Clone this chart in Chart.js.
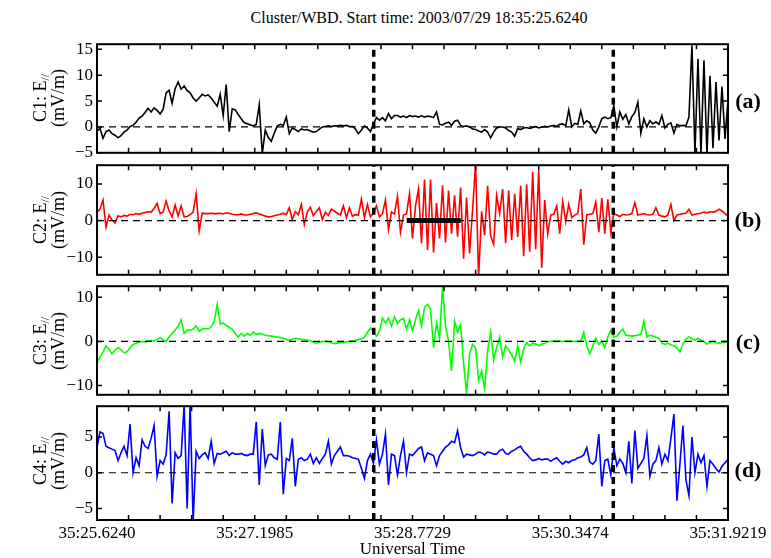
<!DOCTYPE html>
<html><head><meta charset="utf-8">
<script src="https://cdn.jsdelivr.net/npm/chart.js@4"></script>
<style>
html,body{margin:0;padding:0;background:#fff;}
#wrap{position:relative;width:771px;height:558px;overflow:hidden;font-family:"Liberation Serif","Times New Roman",serif;color:#000;}
canvas{position:absolute;left:0;width:771px;}
.ylab{position:absolute;left:49px;transform:translate(-50%,-50%) rotate(-90deg);font-size:18px;line-height:18px;text-align:center;white-space:nowrap;z-index:5;}
.ylab sub{font-size:12px;vertical-align:-3px;line-height:0;}
.plab{position:absolute;left:748px;transform:translate(-50%,-50%);font-size:22px;font-weight:bold;white-space:nowrap;z-index:5;}
#title{position:absolute;left:419px;top:18px;transform:translate(-50%,-50%);font-size:16px;white-space:nowrap;}
</style></head>
<body><div id="wrap">
<div id="title">Cluster/WBD. Start time: 2003/07/29 18:35:25.6240</div>
<canvas id="ca" width="771" height="137" style="top:30px;height:137px"></canvas>
<canvas id="cb" width="771" height="138" style="top:151px;height:138px"></canvas>
<canvas id="cc" width="771" height="137" style="top:272px;height:137px"></canvas>
<canvas id="cd" width="771" height="166" style="top:392px;height:166px"></canvas>
<div class="ylab" style="top:98px">C1: E<sub>//</sub><br>(mV/m)</div>
<div class="ylab" style="top:220px">C2: E<sub>//</sub><br>(mV/m)</div>
<div class="ylab" style="top:341px">C3: E<sub>//</sub><br>(mV/m)</div>
<div class="ylab" style="top:461px">C4: E<sub>//</sub><br>(mV/m)</div>
<div class="plab" style="top:101px">(a)</div>
<div class="plab" style="top:220px">(b)</div>
<div class="plab" style="top:342px">(c)</div>
<div class="plab" style="top:470px">(d)</div>
</div>
<script>
// ---- data ----
const xTickLabels = ['35:25.6240','35:27.1985','35:28.7729','35:30.3474','35:31.9219'];
const xTickSeconds = [0, 1.5745, 3.1489, 4.7234, 6.2979]; // seconds after start time
const markerSeconds = [2.762, 5.153];   // vertical dashed lines
const c2BarSeconds = [3.091, 3.630];    // black bar in panel (b)

const yTicksC1 = [-5, 0, 5, 10, 15];
const yTicksC2 = [-10, 0, 10];
const yTicksC3 = [-10, 0, 10];
const yTicksC4 = [-5, 0, 5];

const c1 = [
-0.8,-0.3,-2.2,-0.9,-0.6,-1.3,-1.6,-2.1,-1.7,-1.0,
-0.6,0.1,0.3,0.9,1.7,2.1,2.8,3.6,2.9,3.7,
3.2,2.5,3.4,6.6,7.1,4.6,7.4,8.7,7.3,7.9,
7.0,6.6,5.6,5.0,5.6,6.3,6.0,6.2,5.6,4.8,
4.0,6.3,2.2,8.2,-0.9,3.5,3.3,2.4,1.6,0.8,
0.6,0.4,0.2,0.5,4.3,-5.2,-0.6,-2.0,-2.8,-1.2,
0.2,0.5,0.3,1.9,-1.3,-0.2,-0.5,-0.9,-0.4,-0.6,
-0.5,-0.8,-1.0,-0.9,-0.4,0.0,0.1,0.2,0.1,0.2,
0.2,0.3,0.2,0.3,0.1,0.1,-0.4,-1.3,-0.6,0.2,
-0.2,-0.9,0.6,1.8,1.3,1.8,1.2,2.6,1.6,2.2,
2.2,1.9,2.1,1.8,2.2,2.0,2.1,1.9,2.2,1.9,
2.1,2.0,1.8,2.9,0.5,0.4,0.7,0.9,0.3,1.1,
1.3,0.3,0.1,0.2,0.0,-0.4,-0.5,-0.8,-1.0,-0.5,
-1.0,-2.1,-1.0,-0.2,0.0,0.0,-0.2,-0.7,-1.0,-1.8,
-0.3,-0.5,-0.2,-0.1,-0.3,-0.1,0.1,-0.2,0.0,0.1,
0.0,0.2,0.3,0.1,0.5,0.6,0.2,3.3,0.0,0.7,
0.5,3.1,0.6,1.2,0.8,-0.6,-1.2,0.0,1.6,1.9,
1.6,1.8,4.1,0.0,2.9,1.5,2.4,0.6,2.0,2.8,
4.8,-1.2,1.6,0.0,1.2,0.6,1.0,0.5,2.2,-0.2,
0.5,0.8,-1.2,0.5,0.2,0.3,0.2,1.9,15.8,-5.2,
13.2,-5.2,12.9,-5.2,9.9,-4.1,8.7,-2.6,7.8,-2.3,
5.3];

const c2 = [
2.3,3.1,5.6,-1.8,1.5,0.2,-0.7,1.3,1.0,1.4,
1.2,1.7,1.6,1.9,1.7,2.0,2.2,2.4,2.3,3.3,
4.7,1.9,2.3,5.3,2.6,1.0,4.2,1.3,4.0,1.0,
1.1,1.6,2.3,7.3,-2.8,2.0,1.9,1.9,2.0,1.9,
1.9,2.0,1.8,2.1,2.0,1.7,1.6,1.6,1.8,1.5,
1.5,1.7,1.9,2.1,1.8,1.5,1.2,1.0,1.1,1.3,
1.5,1.7,2.0,1.6,3.5,0.3,2.4,1.6,4.4,-1.1,
2.4,3.6,1.3,2.5,3.5,0.3,2.3,1.4,3.1,2.6,
2.0,1.5,4.0,0.8,3.5,1.2,1.6,1.5,5.9,0.8,
4.4,1.0,2.2,4.0,1.0,1.8,5.6,-2.4,2.3,1.8,
6.6,-3.2,1.5,1.8,7.3,-4.9,4.0,8.6,-6.2,11.2,
-8.0,11.2,-8.7,4.8,-4.9,9.6,-6.0,8.2,-3.6,6.9,
-4.4,9.0,-10.4,6.3,-9.0,3.1,15.4,-15.5,2.5,-4.0,
9.5,-4.2,-6.5,6.8,2.0,8.6,-6.2,8.2,-5.3,7.3,
-4.5,9.5,-9.7,9.9,-8.5,13.3,-7.8,13.7,-12.9,5.6,
-3.7,1.5,1.7,4.0,-3.6,5.2,-0.3,4.4,0.8,1.5,
1.9,8.6,-6.6,1.6,1.7,1.9,5.0,-3.2,6.1,-3.6,
5.8,-3.2,1.9,1.5,1.1,1.7,1.5,1.6,1.9,4.9,
1.5,1.7,1.9,1.6,1.5,1.7,3.5,1.5,1.2,1.0,
1.5,4.4,0.0,1.5,1.7,1.9,2.0,3.1,1.5,1.7,
1.9,2.0,2.3,2.1,2.4,2.3,2.5,3.1,2.6,1.9,
1.1];

const c3 = [
-4.9,-3.5,-2.5,-1.0,-1.8,-2.8,-2.0,-1.4,-1.9,-2.6,
-2.3,-1.5,-0.7,-0.4,-0.2,0.0,-0.1,0.1,0.2,0.1,
0.4,0.9,0.3,0.0,1.0,1.8,2.6,3.4,4.9,1.8,
2.5,2.6,2.8,3.5,2.3,2.8,2.9,2.8,3.3,4.5,
8.4,3.9,4.2,3.6,3.2,2.8,1.8,1.0,1.8,1.2,
1.8,1.4,2.1,1.6,1.8,1.6,1.4,1.3,1.2,1.1,
1.0,0.9,0.7,0.5,0.2,0.5,0.7,0.6,0.5,0.4,
0.3,0.1,-0.2,-0.4,-0.2,0.0,0.0,-0.1,-0.3,-0.5,
-0.4,-0.3,-0.3,-0.1,0.0,0.0,0.2,0.4,0.6,0.9,
2.0,3.0,2.2,1.2,2.3,5.3,4.2,5.3,3.5,5.6,
4.0,4.9,5.2,2.8,4.9,2.5,4.9,7.0,3.5,7.7,
8.4,7.4,-1.4,4.2,0.7,12.4,3.5,0.0,-6.7,4.6,
2.1,3.8,-4.9,-11.9,-2.8,-0.7,-1.5,-8.8,-6.7,-10.8,
-2.1,2.1,-4.2,-1.4,1.0,-3.5,-1.0,-2.0,-3.0,-4.5,
-1.0,-4.7,-1.7,-0.3,-1.0,-0.4,-0.6,-1.0,-0.6,-0.5,
-0.1,0.0,0.1,0.0,0.1,0.0,0.1,0.0,0.0,0.0,
0.0,0.0,2.0,-1.0,-2.8,-1.0,0.7,-0.7,0.0,-1.4,
1.0,2.5,1.0,1.2,2.1,2.8,1.4,1.3,1.2,1.3,
1.4,1.6,4.6,1.0,1.4,1.2,1.0,0.7,-0.4,-0.7,
-0.4,-0.8,-1.0,-1.5,-2.4,-0.6,0.5,1.0,0.6,0.3,
0.7,0.2,0.0,-0.6,-0.3,0.0,-0.3,-0.4,-0.3,-0.2,
0.0];

const c4 = [
3.5,5.7,5.5,3.7,3.5,3.3,3.1,1.7,2.8,3.7,
2.4,6.8,0.0,2.1,1.0,4.6,3.7,3.4,4.8,6.6,
-0.5,1.7,1.2,2.5,8.6,-4.3,2.8,2.0,2.4,9.5,
-5.0,9.5,-6.8,3.0,2.0,2.5,2.8,2.0,4.4,1.3,
2.7,2.6,2.8,3.0,2.4,2.8,2.6,2.6,2.7,2.5,
2.4,2.6,2.6,7.1,-1.7,6.1,1.0,2.5,2.6,2.1,
1.9,7.1,-3.0,2.0,1.7,4.8,-1.9,1.9,2.1,1.7,
1.9,2.6,1.3,2.1,1.3,2.0,2.6,4.4,1.2,2.4,
3.0,3.6,2.4,2.4,2.3,2.1,2.0,1.9,0.6,-0.8,
1.7,2.6,1.3,4.6,1.2,2.6,5.4,-1.7,2.6,2.4,
-0.3,2.4,4.4,0.0,2.6,2.4,2.9,3.4,3.6,1.7,
2.8,2.6,2.4,1.0,2.4,3.0,3.6,3.9,4.4,4.2,
5.9,3.5,2.2,2.6,2.5,2.4,2.6,2.9,2.8,2.5,
2.9,2.8,2.6,2.6,3.1,3.3,2.7,2.6,3.0,3.2,
3.5,3.7,3.0,2.6,2.1,1.7,1.8,2.0,1.8,1.9,
1.9,1.6,1.9,2.1,1.6,1.2,1.6,1.4,1.7,1.8,
2.1,2.2,2.5,3.5,1.5,1.2,1.7,5.4,-1.9,1.7,
1.9,-0.3,3.5,1.0,1.9,1.3,0.0,4.4,-1.5,5.9,
0.6,1.3,2.0,5.2,-0.5,1.2,1.7,3.5,1.2,2.6,
1.7,4.8,8.2,-3.9,1.2,6.6,-1.0,-3.2,5.0,0.0,
2.6,1.4,2.4,-1.9,1.7,1.2,0.6,0.1,0.9,1.4,
1.9];

// ---- chart setup ----
const FONT = '"Liberation Serif", "Times New Roman", serif';
Chart.defaults.font.family = FONT;
Chart.defaults.color = '#000';
const T = xTickSeconds[xTickSeconds.length - 1];
const minorX = [];
for (let k = 0; k <= 20; k++) minorX.push(T * k / 20);

const framePlugin = {
  id: 'frame',
  afterDraw(chart) {
    const {ctx, chartArea: {left, right, top, bottom}} = chart;
    const xs = chart.scales.x, ys = chart.scales.y;
    ctx.save();
    ctx.strokeStyle = '#000';
    ctx.lineWidth = 1.5;
    const tl = 5;
    ctx.beginPath();
    minorX.forEach(v => {
      const px = xs.getPixelForValue(v);
      ctx.moveTo(px, top); ctx.lineTo(px, top + tl);
      ctx.moveTo(px, bottom); ctx.lineTo(px, bottom - tl);
    });
    ys.ticks.forEach(t => {
      const py = ys.getPixelForValue(t.value);
      ctx.moveTo(left, py); ctx.lineTo(left + tl, py);
      ctx.moveTo(right, py); ctx.lineTo(right - tl, py);
    });
    ctx.stroke();
    ctx.lineWidth = 2;
    ctx.strokeRect(left, top, right - left, bottom - top);
    ctx.restore();
  }
};

const panels = [
  {id: 'ca', values: c1, color: '#000000', min: -5, max: 16, yTicks: yTicksC1, showX: false},
  {id: 'cb', values: c2, color: '#ff0000', min: -14.8, max: 15.1, yTicks: yTicksC2, showX: false, bar: c2BarSeconds},
  {id: 'cc', values: c3, color: '#00ff00', min: -12.1, max: 12.5, yTicks: yTicksC3, showX: false},
  {id: 'cd', values: c4, color: '#0000ff', min: -6.6, max: 9.3, yTicks: yTicksC4, showX: true}
];

panels.forEach(p => {
  const n = p.values.length;
  const pts = p.values.map((v, i) => ({x: i * T / (n - 1), y: v}));
  const datasets = [
    {data: pts, borderColor: p.color, borderWidth: 1.6, pointRadius: 0, tension: 0, clip: 0, order: 3},
    {data: [{x: 0, y: 0}, {x: T, y: 0}], borderColor: '#000', borderWidth: 1.2, borderDash: [7, 5], pointRadius: 0, clip: 0, order: 2}
  ];
  markerSeconds.forEach(m => datasets.push({
    data: [{x: m, y: p.min}, {x: m, y: p.max}], borderColor: '#000', borderWidth: 3.5,
    borderDash: [7, 5], pointRadius: 0, clip: 0, order: 1
  }));
  if (p.bar) datasets.push({
    data: p.bar.map(s => ({x: s, y: 0})), borderColor: '#000', borderWidth: 5,
    borderCapStyle: 'butt', pointRadius: 0, clip: 0, order: 0
  });
  new Chart(document.getElementById(p.id), {
    type: 'line',
    data: {datasets},
    options: {
      responsive: false,
      maintainAspectRatio: false,
      animation: false,
      events: [],
      layout: {padding: {left: 0, right: 43, top: 10, bottom: p.showX ? 0 : 10}},
      plugins: {legend: {display: false}, tooltip: {enabled: false}, title: {display: false}},
      scales: {
        x: {
          type: 'linear', min: 0, max: T, display: p.showX,
          afterBuildTicks: s => { s.ticks = xTickSeconds.map(v => ({value: v})); },
          afterFit: s => { s.height = p.showX ? 38 : 0; },
          ticks: {autoSkip: false, maxRotation: 0, padding: 3, font: {size: 17}, color: '#000',
                  callback: (v, i) => xTickLabels[i]},
          grid: {display: false, drawTicks: false},
          border: {display: false},
          title: {display: true, text: 'Universal Time', font: {size: 17, lineHeight: 1}, padding: 0, color: '#000'}
        },
        y: {
          type: 'linear', min: p.min, max: p.max,
          afterBuildTicks: s => { s.ticks = p.yTicks.map(v => ({value: v})); },
          afterFit: s => { s.width = 97; },
          ticks: {padding: 4, font: {size: 17}, color: '#000',
                  callback: v => String(v).replace('-', '\u2212')},
          grid: {display: false, drawTicks: false},
          border: {display: false}
        }
      }
    },
    plugins: [framePlugin]
  });
});
</script>
</body></html>
